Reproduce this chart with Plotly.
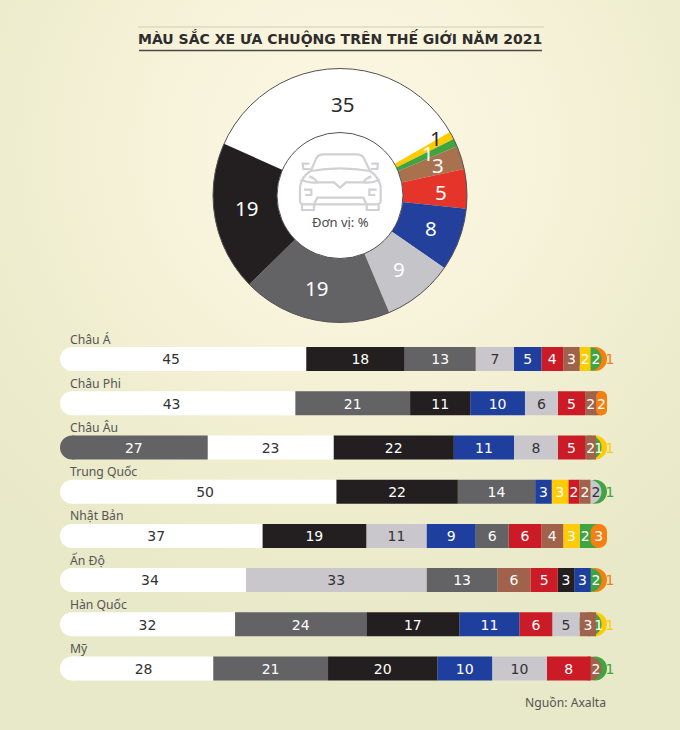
import base64
import re
import plotly.graph_objects as go

W, H = 680, 730

# ---------- data ----------
PIE_NAMES = ["Trắng", "Vàng", "Xanh lá", "Nâu", "Đỏ", "Xanh dương", "Bạc", "Xám", "Đen"]
PIE_VALUES = [35, 1, 1, 3, 5, 8, 9, 19, 19]
PIE_COLORS = ["#FFFFFF", "#FFCB05", "#3FA441", "#A8724F", "#E5352A", "#22409C", "#C5C4C9", "#636265", "#231F20"]
PIE_TEXT_COLORS = ["#2B2A2C", "#2B2A2C", "#FFFFFF", "#FFFFFF", "#FFFFFF", "#FFFFFF", "#FFFFFF", "#FFFFFF", "#FFFFFF"]
PIE_LABEL_PX = [(342, 104), (436, 138), (428, 153), (438, 165), (441, 192), (431, 228), (399, 269), (316, 288), (246, 208)]

REGIONS = ["Châu Á", "Châu Phi", "Châu Âu", "Trung Quốc", "Nhật Bản", "Ấn Độ", "Hàn Quốc", "Mỹ"]
ROW_VALUES = [
    [45, 18, 13, 7, 5, 4, 3, 2, 2, 1],
    [43, 21, 11, 10, 6, 5, 2, 2],
    [27, 23, 22, 11, 8, 5, 2, 1, 1],
    [50, 22, 14, 3, 3, 2, 2, 2, 1],
    [37, 19, 11, 9, 6, 6, 4, 3, 2, 3],
    [34, 33, 13, 6, 5, 3, 3, 2, 1],
    [32, 24, 17, 11, 6, 5, 3, 1, 1],
    [28, 21, 20, 10, 10, 8, 2, 1],
]
ROW_SHADES = [
    ["w", "k", "d", "l", "b", "r", "n", "y", "g", "o"],
    ["w", "d", "k", "b", "l", "r", "n", "o"],
    ["d", "w", "k", "b", "l", "r", "n", "g", "y"],
    ["w", "k", "d", "b", "y", "r", "n", "l", "g"],
    ["w", "k", "l", "b", "d", "r", "n", "y", "g", "o"],
    ["w", "l", "d", "n", "r", "k", "b", "g", "o"],
    ["w", "d", "k", "b", "r", "l", "n", "g", "y"],
    ["w", "d", "k", "b", "l", "r", "n", "g"],
]
SHADE = {"w": "#FFFFFF", "k": "#231F20", "d": "#636265", "l": "#C9C7CC", "b": "#1F3F9E",
         "r": "#CB1B27", "n": "#A0624A", "y": "#FFCB05", "g": "#3FA441", "o": "#F57F10"}
DARK_TEXT_ON = {"w", "l"}
# labels the reference sets off-centre in their segment: (row, segment) -> pixels
LABEL_NUDGE_PX = {(0, 0): -12, (0, 1): 5, (1, 0): -6, (3, 0): 7, (4, 0): -5, (5, 0): -3, (7, 0): 7}

# ---------- geometry ----------
BAR_LEFT, BAR_RIGHT, AXIS_RIGHT = 60, 607, 650
ROW_TOP, ROW_STEP, BAR_H = 337, 44.2, 24
CAP_PX = BAR_H / 2
UNIT_PX = (BAR_RIGHT - BAR_LEFT) / 100
CAP = CAP_PX / UNIT_PX

fig = go.Figure()

# donut
cx, cy, ro = 340, 195.5, 127
fig.add_trace(go.Pie(
    labels=PIE_NAMES, values=PIE_VALUES, sort=False, direction="clockwise", rotation=-66,
    hole=0.495, marker=dict(colors=PIE_COLORS, line=dict(width=0)), textinfo="none",
    showlegend=False, hoverinfo="label+value",
    domain=dict(x=[(cx - ro) / W, (cx + ro) / W], y=[1 - (cy + ro) / H, 1 - (cy - ro) / H]),
))


def seg(r, b0, b1, color, radius, hover=None):
    fig.add_trace(go.Bar(
        y=[r], x=[b1 - b0], base=[b0], orientation="h", width=0.543,
        marker=dict(color=color, line=dict(width=0), cornerradius=radius),
        xaxis="x", yaxis="y", showlegend=False, name=REGIONS[r],
        hovertemplate=f"{hover}<extra></extra>" if hover is not None else None,
        hoverinfo=None if hover is not None else "skip",
    ))


# stacked rows (drawn right to left so each segment overlaps the next one's start)
lx, ly, lt, lc = [], [], [], []
for r, (vals, shades) in enumerate(zip(ROW_VALUES, ROW_SHADES)):
    total = sum(vals)
    ends, run = [], 0
    for v in vals:
        run += v
        ends.append(run / total * 100)
    starts = [0] + ends[:-1]
    n = len(vals)
    last_big = vals[-1] >= 2
    for i in range(n - 1, -1, -1):
        col = SHADE[shades[i]]
        if i == n - 1:
            seg(r, min(starts[i], ends[i] - 2 * CAP), ends[i], col, CAP_PX, vals[i]) if not last_big else \
                seg(r, ends[i] - 2 * CAP, ends[i], col, CAP_PX, vals[i])
        elif i == n - 2 and last_big:
            # the last segment sits on top of this one with a bulging left edge
            seg(r, starts[i], ends[i] + 0.5 * CAP, col, 0, vals[i])
            seg(r, ends[i], ends[i + 1], SHADE[shades[i + 1]], CAP_PX, vals[i + 1])
        elif i == n - 2:
            seg(r, min(starts[i], ends[i] - 2 * CAP), ends[i], col, CAP_PX, vals[i])
        else:
            seg(r, CAP if i == 0 else starts[i], ends[i], col, 0, vals[i])
    seg(r, 0, 2 * CAP, SHADE[shades[0]], CAP_PX)
    for i, v in enumerate(vals):
        outside = i == n - 1 and v == 1
        mid = ends[i] + 0.55 if outside else (starts[i] + ends[i]) / 2
        lx.append(mid + LABEL_NUDGE_PX.get((r, i), 0) / UNIT_PX)
        ly.append(r + 0.04)
        lt.append(str(v))
        if outside:
            lc.append(SHADE[shades[i]])
        elif shades[i] in DARK_TEXT_ON:
            lc.append("#333234")
        else:
            lc.append("#FFFFFF")

fig.add_trace(go.Scatter(
    x=lx, y=ly, text=lt, mode="text", textposition="middle center", cliponaxis=False,
    textfont=dict(family="DejaVu Sans", size=14, color=lc), xaxis="x", yaxis="y",
    showlegend=False, hoverinfo="skip",
))

# ---------- page ----------
gradient = f"""<svg xmlns='http://www.w3.org/2000/svg' width='{W}' height='{H}'>
<defs><radialGradient id='g' gradientUnits='userSpaceOnUse' cx='350' cy='150' r='500'>
<stop offset='0' stop-color='#FCF7E2'/><stop offset='0.35' stop-color='#F8F3DB'/>
<stop offset='0.75' stop-color='#EDECCD'/><stop offset='1' stop-color='#E8E9C8'/></radialGradient></defs>
<rect width='{W}' height='{H}' fill='url(#g)'/></svg>"""
bg = "data:image/svg+xml;base64," + base64.b64encode(gradient.encode()).decode()


def z2px(path):
    """Icon path written in a 3x crop of the icon area -> page pixels."""
    toks = re.findall(r"[A-Za-z]|-?\d+\.?\d*", path)
    out, k = [], 0
    for t in toks:
        if t.isalpha():
            out.append(t)
        else:
            out.append(f"{290 + float(t) / 3:.2f}" if k % 2 == 0 else f"{145 + float(t) / 3:.2f}")
            k += 1
    return " ".join(out)


CAR = [
    "M 62 78 L 80 38 Q 85 28 100 28 L 200 28 Q 215 28 221 38 L 240 78",
    "M 62 78 Q 150 62 240 78",
    "M 60 72 L 40 72 L 38 56 L 58 56",
    "M 242 72 L 262 72 L 264 56 L 244 56",
    "M 62 78 Q 34 95 30 125 L 30 170 Q 32 178 45 178 L 255 178 Q 270 178 272 170 L 272 125 Q 266 95 240 78",
    "M 32 104 Q 60 116 82 112 Q 72 98 58 94",
    "M 270 104 Q 242 116 220 112 Q 230 98 244 94",
    "M 82 112 L 132 112 L 150 128 L 168 112 L 220 112",
    "M 42 134 L 64 134 L 64 150 L 46 150",
    "M 260 134 L 238 134 L 238 150 L 256 150",
    "M 72 178 L 82 158 L 220 158 L 230 178",
    "M 36 178 L 36 195 L 72 195 L 72 178",
    "M 230 178 L 230 195 L 266 195 L 266 178",
]

PX = dict(xref="x2", yref="y2")
shapes = [
    dict(type="circle", x0=cx - ro, x1=cx + ro, y0=cy - ro, y1=cy + ro, line=dict(color="#555154", width=1), **PX),
    dict(type="circle", x0=cx - 63, x1=cx + 63, y0=cy - 63, y1=cy + 63, fillcolor="#FFFFFF",
         line=dict(color="#555154", width=1), **PX),
    dict(type="line", x0=138, x1=544, y0=27, y1=27, line=dict(color="#CFCDB4", width=1), **PX),
    dict(type="line", x0=139, x1=542, y0=50.5, y1=50.5, line=dict(color="#4A4846", width=1.5), **PX),
]
for p in CAR:
    shapes.append(dict(type="path", path=z2px(p), line=dict(color="#D2D0D3", width=2.2), **PX))

ann = [
    dict(x=340, y=38, text="<b>MÀU SẮC XE ƯA CHUỘNG TRÊN THẾ GIỚI NĂM 2021</b>",
         font=dict(family="DejaVu Sans", size=14, color="#2E2C2C"), **PX),
    dict(x=340, y=222, text="Đơn vị: %", font=dict(family="Noto Sans", size=13, color="#4A484A"), **PX),
    dict(x=608, y=702, text="Nguồn: Axalta", xanchor="right", font=dict(family="Noto Sans", size=12.2, color="#555"), **PX),
]
for (px, py), v, c in zip(PIE_LABEL_PX, PIE_VALUES, PIE_TEXT_COLORS):
    ann.append(dict(x=px, y=py, text=str(v), font=dict(family="Noto Sans", size=20.5, color=c), **PX))
for r, name in enumerate(REGIONS):
    ann.append(dict(x=68, y=ROW_TOP + ROW_STEP * (r + 0.5) - 20, text=name, xanchor="left",
                    font=dict(family="Noto Sans", size=12.2, color="#555"), **PX))
for a in ann:
    a["showarrow"] = False

fig.update_layout(
    width=W, height=H, margin=dict(l=0, r=0, t=0, b=0), autosize=False,
    barmode="overlay", paper_bgcolor="#F4F0D6", plot_bgcolor="rgba(0,0,0,0)",
    xaxis=dict(domain=[BAR_LEFT / W, AXIS_RIGHT / W], range=[0, (AXIS_RIGHT - BAR_LEFT) / UNIT_PX], visible=False, fixedrange=True),
    yaxis=dict(domain=[1 - (ROW_TOP + 8 * ROW_STEP) / H, 1 - ROW_TOP / H], range=[7.5, -0.5], visible=False, fixedrange=True),
    xaxis2=dict(domain=[0, 1], range=[0, W], visible=False, fixedrange=True, anchor="y2"),
    yaxis2=dict(domain=[0, 1], range=[H, 0], visible=False, fixedrange=True, anchor="x2"),
    images=[dict(source=bg, xref="paper", yref="paper", x=0, y=1, sizex=1, sizey=1,
                 sizing="stretch", xanchor="left", yanchor="top", layer="below")],
    shapes=shapes, annotations=ann, showlegend=False,
)
fig.write_html("out.html", config={"displayModeBar": False},
               post_script="document.documentElement.style.margin='0';document.body.style.margin='0';document.body.style.overflow='hidden';")
